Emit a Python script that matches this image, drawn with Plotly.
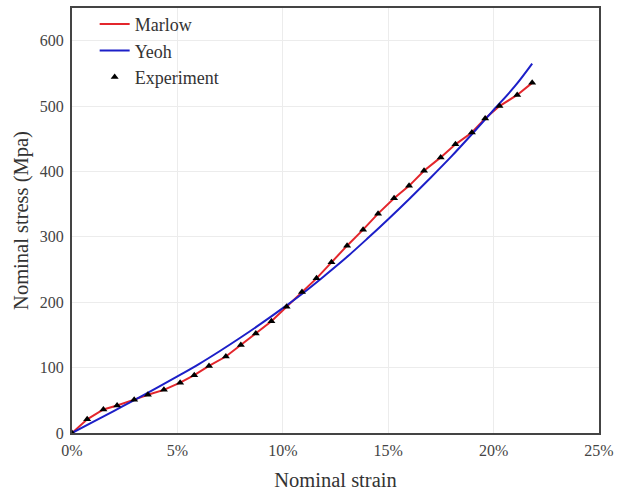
import plotly.graph_objects as go

# Experiment data (nominal strain in %, nominal stress in MPa)
exp_strain = [0, 0.72, 1.49, 2.14, 2.95, 3.6, 4.36, 5.13, 5.8, 6.5, 7.3, 8.01, 8.72, 9.46,
              10.18, 10.91, 11.6, 12.31, 13.05, 13.81, 14.52, 15.28, 15.99, 16.7, 17.49,
              18.19, 18.97, 19.6, 20.28, 21.12, 21.83]
exp_stress = [0, 21, 36, 42, 51, 58.5, 66, 77, 88.5, 102.5, 117, 134.5, 152, 171,
              193, 215.5, 236.5, 261, 286.5, 311, 335.5, 359, 378, 401, 421.5,
              441.5, 459.5, 481, 500, 517, 535.5]

# Marlow fit follows the experiment
marlow_strain = exp_strain
marlow_stress = exp_stress

# Yeoh fit
yeoh_strain = [0, 1, 2, 3, 4, 5, 6, 7, 8, 9, 10, 11, 12, 13, 14, 15, 16, 17, 18, 19, 20, 21, 21.83]
yeoh_stress = [0, 17, 34, 51, 68.5, 86.5, 105, 125, 146, 168, 191, 215, 241, 268, 297, 327,
               358, 390, 423, 458, 494, 530, 565]

x_ticks = [0, 5, 10, 15, 20, 25]
y_ticks = [0, 100, 200, 300, 400, 500, 600]

FONT = "Liberation Serif, Times New Roman, serif"

fig = go.Figure()
fig.add_trace(go.Scatter(x=marlow_strain, y=marlow_stress, mode="lines", name="Marlow",
                         line=dict(color="#e3262c", width=2)))
fig.add_trace(go.Scatter(x=yeoh_strain, y=yeoh_stress, mode="lines", name="Yeoh",
                         line=dict(color="#1c1fc8", width=2, shape="spline")))
fig.add_trace(go.Scatter(x=exp_strain, y=exp_stress, mode="markers", name="Experiment",
                         marker=dict(symbol="triangle-up", size=7, color="black")))

fig.update_layout(
    width=633, height=494,
    margin=dict(l=72, r=34, t=6, b=61),
    paper_bgcolor="white", plot_bgcolor="white",
    font=dict(family=FONT, size=16, color="#333"),
    showlegend=True,
    legend=dict(x=0.043, y=1.005, xanchor="left", yanchor="top",
                bgcolor="rgba(0,0,0,0)", font=dict(family=FONT, size=18, color="#333"),
                tracegroupgap=0),
)
fig.update_xaxes(range=[0, 25], tickvals=x_ticks, ticktext=[f"{v}%" for v in x_ticks],
                 showgrid=True, gridcolor="#ececec", gridwidth=1,
                 showline=True, linecolor="#444", linewidth=2, mirror=True,
                 zeroline=False, ticks="outside", ticklen=2, tickcolor="rgba(0,0,0,0)",
                 tickfont=dict(family=FONT, size=16, color="#444"),
                 title=dict(text="Nominal strain", font=dict(family=FONT, size=20.5, color="#333"),
                            standoff=14))
fig.update_yaxes(range=[0, 650], tickvals=y_ticks,
                 showgrid=True, gridcolor="#ececec", gridwidth=1,
                 showline=True, linecolor="#444", linewidth=2, mirror=True,
                 zeroline=False, ticks="outside", ticklen=3, tickcolor="rgba(0,0,0,0)",
                 tickfont=dict(family=FONT, size=16, color="#444"),
                 title=dict(text="Nominal stress (Mpa)", font=dict(family=FONT, size=20.5, color="#333"),
                            standoff=6))

fig.write_html("out.html")
